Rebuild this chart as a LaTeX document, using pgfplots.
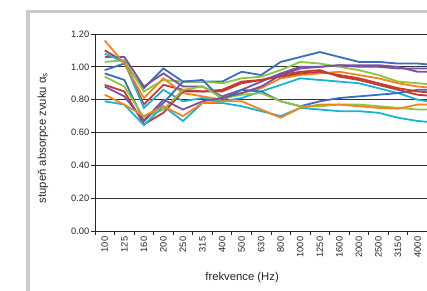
\documentclass[border=0pt]{standalone}
\usepackage{fontspec}
\setmainfont{Liberation Sans}
\usepackage{pgfplots}
\usepackage{pgfplotstable}
\pgfplotsset{compat=1.18}
\definecolor{cblue}{HTML}{3A6DC0}
\definecolor{cred}{HTML}{C23A30}
\definecolor{cgreen}{HTML}{8CC63F}
\definecolor{cpurple}{HTML}{7B509E}
\definecolor{ccyan}{HTML}{1CB2D6}
\definecolor{corange}{HTML}{F5841F}
\definecolor{framegray}{HTML}{CBCBCB}

\pgfplotstableread{
x b1 b2 r1 r2 g1 g2 p1 p2 c1 c2 o1 o2
0 0.98 0.96 1.10 0.89 1.03 0.94 1.06 0.88 1.08 0.79 1.16 0.83
1 1.02 0.92 1.03 0.85 1.04 0.88 1.06 0.82 1.03 0.77 1.02 0.77
2 0.87 0.67 0.77 0.65 0.85 0.69 0.88 0.67 0.75 0.645 0.81 0.70
3 0.99 0.78 0.89 0.72 0.92 0.74 0.96 0.80 0.86 0.76 0.93 0.76
4 0.91 0.91 0.86 0.85 0.91 0.86 0.88 0.74 0.79 0.67 0.84 0.70
5 0.91 0.92 0.85 0.85 0.91 0.88 0.88 0.79 0.81 0.78 0.82 0.78
6 0.91 0.80 0.86 0.85 0.90 0.81 0.82 0.81 0.79 0.78 0.80 0.79
7 0.97 0.86 0.91 0.90 0.93 0.83 0.86 0.84 0.81 0.76 0.84 0.79
8 0.95 0.85 0.92 0.92 0.94 0.84 0.91 0.88 0.85 0.73 0.87 0.74
9 1.03 0.79 0.95 0.94 0.98 0.79 0.96 0.95 0.89 0.70 0.93 0.69
10 1.06 0.76 0.97 0.96 1.03 0.76 1.00 0.99 0.93 0.75 0.95 0.75
11 1.09 0.79 0.98 0.97 1.02 0.76 1.00 1.00 0.92 0.74 0.96 0.77
12 1.06 0.81 0.94 0.95 1.00 0.77 1.01 1.01 0.91 0.73 0.97 0.77
13 1.03 0.82 0.92 0.93 0.98 0.77 1.01 1.00 0.90 0.73 0.95 0.76
14 1.03 0.83 0.89 0.90 0.95 0.76 1.01 1.00 0.87 0.72 0.93 0.75
15 1.02 0.84 0.86 0.87 0.91 0.75 1.00 0.99 0.84 0.69 0.90 0.745
16 1.02 0.86 0.83 0.85 0.90 0.74 0.97 0.99 0.80 0.67 0.88 0.77
17 1.01 0.86 0.82 0.84 0.89 0.74 0.97 0.99 0.78 0.66 0.87 0.77
}\data

\begin{document}
\begin{tikzpicture}
\path[use as bounding box] (0bp,0bp) rectangle (427bp,291bp);
\clip (0bp,0bp) rectangle (427bp,291bp);
\fill[white] (0bp,0bp) rectangle (427bp,291bp);
\draw[line width=3.5bp, framegray] (28bp,-5bp) -- (28bp,279.5bp) -- (440bp,279.5bp);
\begin{axis}[
  at={(95bp,60bp)}, anchor=south west,
  scale only axis, width=351.9bp, height=197bp,
  xmin=-0.5, xmax=17.5, ymin=0, ymax=1.2,
  xtick={0,...,16},
  xticklabels={100,125,160,200,250,315,400,500,630,800,1000,1250,1600,2000,2500,3150,4000},
  major x tick style={draw=none},
  minor xtick={-0.5,0.5,...,17.5},
  minor x tick style={draw=black!85, line width=0.8bp},
  minor tick length=4bp,
  ytick={0,0.2,...,1.21},
  major tick length=4bp,
  tick align=outside,
  xtick pos=bottom, ytick pos=left,
  ymajorgrids,
  grid style={black!80, line width=0.8bp},
  axis line style={black!85, line width=0.9bp},
  ytick style={black!85, line width=0.8bp},
  /pgf/number format/assume math mode=true,
  tick label style={font=\fontsize{9.3bp}{10bp}\selectfont, black!85},
  xticklabel style={rotate=90, anchor=east, inner sep=1.5bp},
  yticklabel style={inner sep=1.5bp, /pgf/number format/fixed, /pgf/number format/fixed zerofill, /pgf/number format/precision=2},
  xlabel={frekvence (Hz)},
  ylabel={stupeň absorpce zvuku α\textsubscript{s}},
  label style={font=\fontsize{11.3bp}{12bp}\selectfont, black!85},
  xlabel style={at={(axis description cs:0.418,-0.2386)}, anchor=center},
  ylabel style={at={(axis description cs:-0.148,0.472)}, anchor=center},
  every axis plot/.append style={line width=1.8bp, mark=none},
]
\addplot[cblue] table[x=x,y=b1]{\data};
\addplot[cred] table[x=x,y=r1]{\data};
\addplot[cgreen] table[x=x,y=g1]{\data};
\addplot[cpurple] table[x=x,y=p1]{\data};
\addplot[ccyan] table[x=x,y=c1]{\data};
\addplot[corange] table[x=x,y=o1]{\data};
\addplot[cblue] table[x=x,y=b2]{\data};
\addplot[cred] table[x=x,y=r2]{\data};
\addplot[cgreen] table[x=x,y=g2]{\data};
\addplot[cpurple] table[x=x,y=p2]{\data};
\addplot[ccyan] table[x=x,y=c2]{\data};
\addplot[corange] table[x=x,y=o2]{\data};
\end{axis}
\end{tikzpicture}
\end{document}
